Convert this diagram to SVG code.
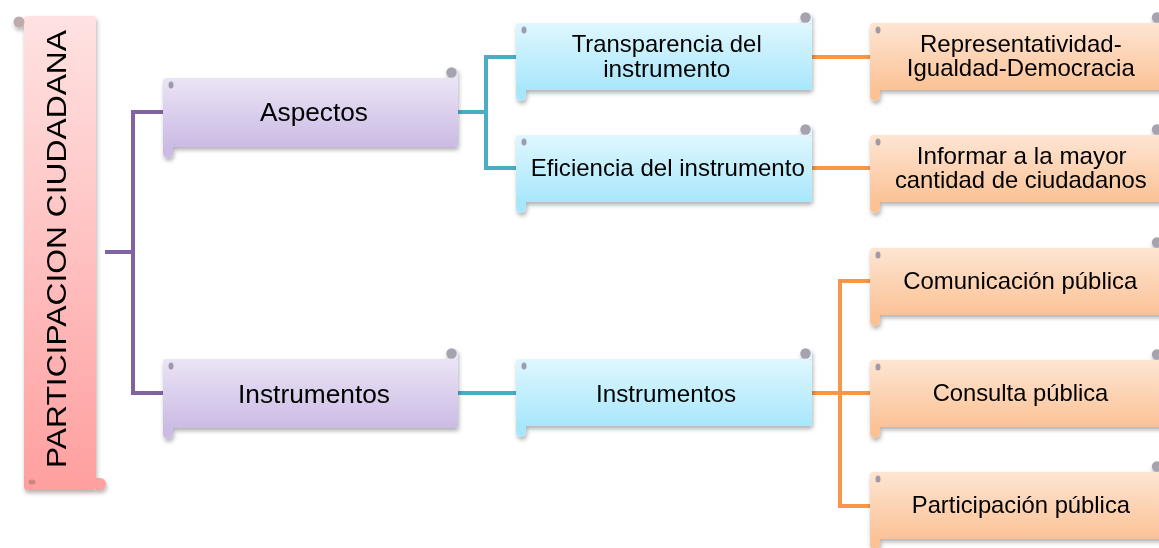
<svg xmlns="http://www.w3.org/2000/svg" width="1159" height="548" viewBox="0 0 1159 548">
<defs>
<linearGradient id="gPink" x1="0" y1="0" x2="0" y2="1"><stop offset="0" stop-color="#FFE2E2"/><stop offset="1" stop-color="#FF9F9F"/></linearGradient>
<linearGradient id="gPurple" x1="0" y1="0" x2="0" y2="1"><stop offset="0" stop-color="#EBE4F5"/><stop offset="1" stop-color="#CBBBE5"/></linearGradient>
<linearGradient id="gBlue" x1="0" y1="0" x2="0" y2="1"><stop offset="0" stop-color="#DFF7FE"/><stop offset="1" stop-color="#A8E7FB"/></linearGradient>
<linearGradient id="gOrange" x1="0" y1="0" x2="0" y2="1"><stop offset="0" stop-color="#FEE5D3"/><stop offset="1" stop-color="#FBC296"/></linearGradient>
<filter id="sh" x="-10%" y="-20%" width="120%" height="150%"><feDropShadow dx="1" dy="3" stdDeviation="2" flood-color="#000" flood-opacity="0.3"/></filter>
</defs>
<style>
text{font-family:"Liberation Sans",Arial,sans-serif;fill:#000;text-anchor:middle}
.t26{font-size:26px}
.t24{font-size:24px}
.root{font-size:27px}
.curl{fill:#A4A3AE}
.dot{fill:#8C879C;opacity:0.8}
.con{fill:none;stroke-width:4}
.cp{stroke:#8064A2}
.ct{stroke:#4BACC6}
.co{stroke:#F79646}
</style>

<g id="connectors">
<path class="con cp" d="M105 252 H133 M163 112 H133 V393 H163"/>
<path class="con ct" d="M458 112 H486 M516 57 H486 V168 H516 M458 393 H516"/>
<path class="con co" d="M812 57 H870 M812 168 H870 M812 393 H840 M870 281 H840 V506 H870 M840 393 H870"/>
</g>

<g id="root" filter="url(#sh)">
<rect x="24" y="16" width="72" height="474" rx="3" fill="url(#gPink)"/>
<path d="M96 478 H100 A6 6 0 0 1 100 490 H96 Z" fill="#FFA1A1"/>
<circle cx="19" cy="22" r="5.5" fill="#BFA9AB"/>
<ellipse cx="32" cy="482" rx="3.5" ry="2.5" fill="#C07A7A" opacity="0.75"/>
<text class="root" transform="translate(65.5,249) rotate(-90)" textLength="438" lengthAdjust="spacingAndGlyphs">PARTICIPACION CIUDADANA</text>
</g>

<g id="aspectos" filter="url(#sh)">
<rect x="163" y="78" width="295" height="69" rx="3" fill="url(#gPurple)"/>
<path d="M163 146 V153 A5 5 0 0 0 173 153 V146 Z" fill="#CBBBE5"/>
<path d="M450 78 V72 A4 4 0 0 1 458 72 V78 Z" fill="#EBE4F5"/>
<circle class="curl" cx="451.5" cy="72.5" r="5.2"/>
<ellipse class="dot" cx="171" cy="85" rx="2.5" ry="3.5"/>
<text class="t26" x="314" y="121" textLength="108" lengthAdjust="spacingAndGlyphs">Aspectos</text>
</g>

<g id="instrumentos1" filter="url(#sh)">
<rect x="163" y="359" width="295" height="69" rx="3" fill="url(#gPurple)"/>
<path d="M163 427 V434 A5 5 0 0 0 173 434 V427 Z" fill="#CBBBE5"/>
<path d="M450 359 V353 A4 4 0 0 1 458 353 V359 Z" fill="#EBE4F5"/>
<circle class="curl" cx="451.5" cy="353.5" r="5.2"/>
<ellipse class="dot" cx="171" cy="366" rx="2.5" ry="3.5"/>
<text class="t26" x="314" y="402.5" textLength="152" lengthAdjust="spacingAndGlyphs">Instrumentos</text>
</g>

<g id="transparencia" filter="url(#sh)">
<rect x="516" y="23" width="296" height="67" rx="3" fill="url(#gBlue)"/>
<path d="M516 89 V96 A5 5 0 0 0 526 96 V89 Z" fill="#A8E7FB"/>
<path d="M804 23 V17 A4 4 0 0 1 812 17 V23 Z" fill="#DFF7FE"/>
<circle class="curl" cx="805.5" cy="17.5" r="5.2"/>
<ellipse class="dot" cx="524" cy="30" rx="2.5" ry="3.5"/>
<text class="t24" x="666.7" y="51.7" textLength="190" lengthAdjust="spacingAndGlyphs">Transparencia del</text>
<text class="t24" x="666.7" y="76.5" textLength="127" lengthAdjust="spacingAndGlyphs">instrumento</text>
</g>

<g id="eficiencia" filter="url(#sh)">
<rect x="516" y="135" width="296" height="67" rx="3" fill="url(#gBlue)"/>
<path d="M516 201 V208 A5 5 0 0 0 526 208 V201 Z" fill="#A8E7FB"/>
<path d="M804 135 V129 A4 4 0 0 1 812 129 V135 Z" fill="#DFF7FE"/>
<circle class="curl" cx="805.5" cy="129.5" r="5.2"/>
<ellipse class="dot" cx="524" cy="142" rx="2.5" ry="3.5"/>
<text class="t24" x="667.8" y="176" textLength="274" lengthAdjust="spacingAndGlyphs">Eficiencia del instrumento</text>
</g>

<g id="instrumentos2" filter="url(#sh)">
<rect x="516" y="359" width="296" height="67" rx="3" fill="url(#gBlue)"/>
<path d="M516 425 V432 A5 5 0 0 0 526 432 V425 Z" fill="#A8E7FB"/>
<path d="M804 359 V353 A4 4 0 0 1 812 353 V359 Z" fill="#DFF7FE"/>
<circle class="curl" cx="805.5" cy="353.5" r="5.2"/>
<ellipse class="dot" cx="524" cy="366" rx="2.5" ry="3.5"/>
<text class="t24" x="666" y="402" textLength="140" lengthAdjust="spacingAndGlyphs">Instrumentos</text>
</g>

<g id="representatividad" filter="url(#sh)">
<rect x="870" y="23" width="295" height="67" rx="3" fill="url(#gOrange)"/>
<path d="M870 89 V96 A5 5 0 0 0 880 96 V89 Z" fill="#FBC296"/>
<circle class="curl" cx="1157" cy="17.5" r="5.2"/>
<ellipse class="dot" cx="878" cy="30" rx="2.5" ry="3.5"/>
<text class="t24" x="1020.8" y="51.7" textLength="201.7" lengthAdjust="spacingAndGlyphs">Representatividad-</text>
<text class="t24" x="1020.8" y="76.2" textLength="228" lengthAdjust="spacingAndGlyphs">Igualdad-Democracia</text>
</g>

<g id="informar" filter="url(#sh)">
<rect x="870" y="135" width="295" height="67" rx="3" fill="url(#gOrange)"/>
<path d="M870 201 V208 A5 5 0 0 0 880 208 V201 Z" fill="#FBC296"/>
<circle class="curl" cx="1157" cy="129.5" r="5.2"/>
<ellipse class="dot" cx="878" cy="142" rx="2.5" ry="3.5"/>
<text class="t24" x="1021.7" y="164" textLength="210" lengthAdjust="spacingAndGlyphs">Informar a la mayor</text>
<text class="t24" x="1020.8" y="188.3" textLength="251.7" lengthAdjust="spacingAndGlyphs">cantidad de ciudadanos</text>
</g>

<g id="comunicacion" filter="url(#sh)">
<rect x="870" y="248" width="295" height="67" rx="3" fill="url(#gOrange)"/>
<path d="M870 314 V321 A5 5 0 0 0 880 321 V314 Z" fill="#FBC296"/>
<circle class="curl" cx="1157" cy="242.5" r="5.2"/>
<ellipse class="dot" cx="878" cy="255" rx="2.5" ry="3.5"/>
<text class="t24" x="1020.3" y="289.3" textLength="234" lengthAdjust="spacingAndGlyphs">Comunicación pública</text>
</g>

<g id="consulta" filter="url(#sh)">
<rect x="870" y="360" width="295" height="67" rx="3" fill="url(#gOrange)"/>
<path d="M870 426 V433 A5 5 0 0 0 880 433 V426 Z" fill="#FBC296"/>
<circle class="curl" cx="1157" cy="354.5" r="5.2"/>
<ellipse class="dot" cx="878" cy="367" rx="2.5" ry="3.5"/>
<text class="t24" x="1020.5" y="401" textLength="175.7" lengthAdjust="spacingAndGlyphs">Consulta pública</text>
</g>

<g id="participacion" filter="url(#sh)">
<rect x="870" y="472" width="295" height="67" rx="3" fill="url(#gOrange)"/>
<path d="M870 538 V545 A5 5 0 0 0 880 545 V538 Z" fill="#FBC296"/>
<circle class="curl" cx="1157" cy="466.5" r="5.2"/>
<ellipse class="dot" cx="878" cy="479" rx="2.5" ry="3.5"/>
<text class="t24" x="1020.9" y="512.7" textLength="218.3" lengthAdjust="spacingAndGlyphs">Participación pública</text>
</g>
</svg>
